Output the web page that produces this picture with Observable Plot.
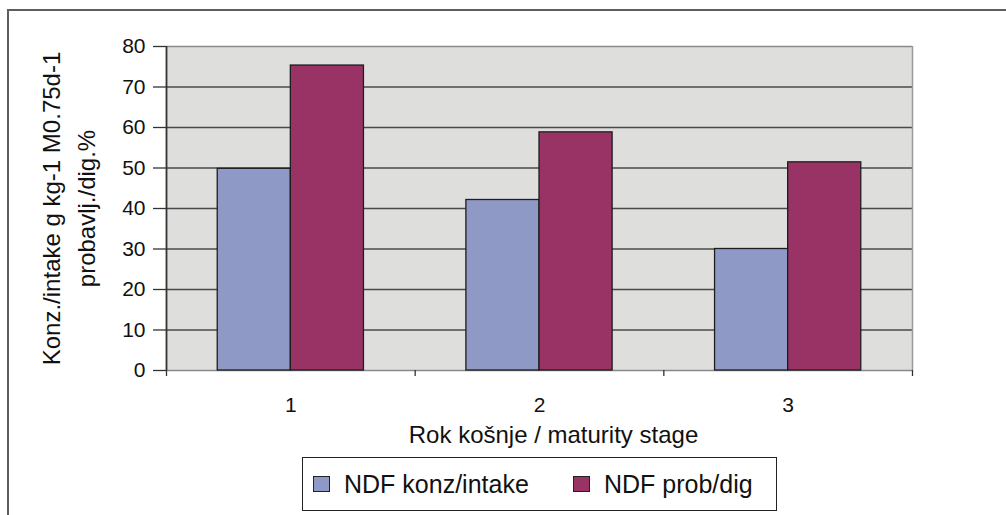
<!DOCTYPE html>
<html>
<head>
<meta charset="utf-8">
<script src="https://cdn.jsdelivr.net/npm/d3@7"></script>
<script src="https://cdn.jsdelivr.net/npm/@observablehq/plot@0.6"></script>
<style>
  html, body { margin: 0; padding: 0; background: #fff; overflow: hidden; }
  #wrap { position: relative; width: 1006px; height: 515px; font-family: "Liberation Sans", Arial, sans-serif; }
  #outer { position: absolute; left: 7px; top: 9px; width: 1200px; height: 800px; border-left: 2px solid #5e5e5e; border-top: 2px solid #5e5e5e; }
  #chart { position: absolute; left: 0; top: 0; }
  #chart svg g[aria-label="x-axis tick label"] text,
  #chart svg g[aria-label="y-axis tick label"] text { font-size: 21px !important; }
  #legend { position: absolute; left: 302px; top: 457px; width: 473px; height: 52px; border: 1px solid #222; background: #fff; box-sizing: content-box; }
  .item { position: absolute; top: 0; height: 52px; display: flex; align-items: center; font-size: 25px; color: #111; white-space: nowrap; }
  .sw { width: 15px; height: 14px; border: 1px solid #222; margin-right: 14px; }
</style>
</head>
<body>
<div id="wrap">
  <div id="outer"></div>
  <div id="chart"></div>
  <div id="legend"></div>
</div>
<script>
// ---- data ----
const stages = [1, 2, 3];
const stageLabels = ["1", "2", "3"];
const seriesNames = ["NDF konz/intake", "NDF prob/dig"];
const konzIntake = [49.8, 42.1, 30.0];
const probDig = [75.3, 58.8, 51.4];
const yTicks = [0, 10, 20, 30, 40, 50, 60, 70, 80];
const seriesColors = ["#8f99c5", "#993366"];
const xTitle = "Rok košnje / maturity stage";
const yTitle = "Konz./intake g kg-1 M0.75d-1\nprobavlj./dig.%";

// ---- table ----
const rows = stages.flatMap((s, i) => [
  {stage: s, series: seriesNames[0], value: konzIntake[i]},
  {stage: s, series: seriesNames[1], value: probDig[i]}
]);
const barW = 0.294; // fraction of one category
const boundaries = [stages[0] - 0.5, ...stages.map(s => s + 0.5)];

const plot = Plot.plot({
  width: 1006,
  height: 515,
  marginLeft: 166,
  marginRight: 94,
  marginTop: 46,
  marginBottom: 145,
  style: {fontFamily: "'Liberation Sans', Arial, sans-serif", fontSize: "21px", color: "#111", background: "transparent", overflow: "visible"},
  x: {type: "linear", domain: [boundaries[0], boundaries[boundaries.length - 1]], axis: null},
  y: {domain: [0, 80], axis: null},
  color: {domain: seriesNames, range: seriesColors},
  marks: [
    Plot.frame({fill: "#dededc", stroke: null}),
    Plot.gridY(yTicks.filter(d => d > 0 && d < 80), {stroke: "#4a4a4a", strokeOpacity: 1, strokeWidth: 1.3}),
    Plot.ruleY([80], {stroke: "#8a8a8a", strokeWidth: 1.5}),
    Plot.ruleY([0], {stroke: "#8a8a8a", strokeWidth: 1.5}),
    Plot.ruleX([boundaries[boundaries.length - 1]], {stroke: "#9a9a9a", strokeWidth: 1.5}),
    Plot.rectY(rows, {
      x1: d => d.series === seriesNames[0] ? d.stage - barW : d.stage,
      x2: d => d.series === seriesNames[0] ? d.stage : d.stage + barW,
      y: "value",
      fill: "series",
      stroke: "#1e1e1e",
      strokeWidth: 1.3
    }),
    Plot.ruleX([boundaries[0]], {stroke: "#333", strokeWidth: 1.8}),
    Plot.axisY(yTicks, {
      tickSize: 13, tickPadding: 8, stroke: "#333", strokeWidth: 1.3, label: null
    }),
    Plot.axisX(boundaries, {tickSize: 6, stroke: "#333", strokeWidth: 1.3, tickFormat: () => "", label: null}),
    Plot.axisX(stages, {
      tickSize: 0, tickPadding: 27, tickFormat: (d, i) => stageLabels[i], label: null
    }),
    Plot.text([xTitle], {
      frameAnchor: "bottom", dx: 14, dy: 65, fontSize: 24, lineAnchor: "middle", fill: "#111"
    }),
    Plot.text([yTitle], {
      frameAnchor: "left", dx: -100, rotate: -90, fontSize: 24, textAnchor: "middle",
      lineAnchor: "middle", lineHeight: 1.46, fill: "#111"
    })
  ]
});
document.getElementById("chart").appendChild(plot);

// ---- legend ----
const legendOffsets = [10, 270];
const legend = d3.select("#legend");
seriesNames.forEach((name, i) => {
  const it = legend.append("div").attr("class", "item").style("left", legendOffsets[i] + "px");
  it.append("div").attr("class", "sw").style("background", seriesColors[i]);
  it.append("span").text(name);
});
</script>
</body>
</html>
